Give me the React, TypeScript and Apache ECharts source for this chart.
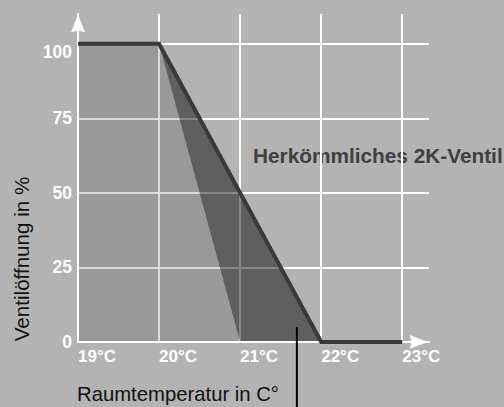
import React, { useEffect, useRef } from "react";
import * as echarts from "echarts";

// ---- data ----
const xTickValues = [19, 20, 21, 22, 23];
const yTickValues = [0, 25, 50, 75, 100];
const xGridValues = [20, 21, 22, 23];
const yGridValues = [25, 50, 75, 100];
const valveCurve = [
  [19, 100],
  [20, 100],
  [22, 0],
  [23, 0],
];
const lightArea = [
  [19, 0],
  [19, 100],
  [20, 100],
  [21, 0],
];
const darkArea = [
  [20, 100],
  [21, 0],
  [22, 0],
];
const pointerAt = [21.7, 5];
const seriesLabel = "Herkömmliches 2K-Ventil";
const xTitle = "Raumtemperatur in C°";
const yTitle = "Ventilöffnung in %";
const xRange = [19, 23.33];
const yRange = [0, 110];

const FONT = "'Liberation Sans', Arial, Helvetica, sans-serif";

export default function App() {
  const ref = useRef<HTMLDivElement>(null);

  useEffect(() => {
    if (!ref.current) return;
    const chart = echarts.init(ref.current, undefined, { renderer: "svg" });

    const polygonSeries = (pts: number[][], fill: string, z: number) => ({
      type: "custom",
      coordinateSystem: "cartesian2d",
      z,
      silent: true,
      data: [pts[0]],
      renderItem: (_params: any, api: any) => ({
        type: "polygon",
        shape: { points: pts.map((p) => api.coord(p)) },
        style: { fill },
      }),
    });

    const axisLine = {
      show: true,
      lineStyle: { color: "#ffffff", width: 2 },
    };

    const option: any = {
      animation: false,
      backgroundColor: "#b3b3b3",
      grid: { left: 78, right: 75, top: 14, bottom: 65, containLabel: false },
      xAxis: {
        type: "value",
        min: xRange[0],
        max: xRange[1],
        interval: 1,
        z: 3,
        axisLine,
        axisTick: { show: false },
        splitLine: { show: false },
        axisLabel: {
          showMaxLabel: false,
          color: "#ffffff",
          fontWeight: "bold",
          fontSize: 17,
          fontFamily: FONT,
          align: "left",
          margin: 6,
          formatter: (v: number) =>
            xTickValues.includes(v) ? `${v}°C` : "",
        },
      },
      yAxis: {
        type: "value",
        min: yRange[0],
        max: yRange[1],
        interval: 25,
        z: 3,
        axisLine,
        axisTick: { show: false },
        splitLine: { show: false },
        axisLabel: {
          showMaxLabel: false,
          color: "#ffffff",
          fontWeight: "bold",
          fontSize: 17.5,
          fontFamily: FONT,
          margin: 6,
          formatter: (v: number) =>
            yTickValues.includes(v)
              ? v === 100
                ? `{low|${v}}`
                : String(v)
              : "",
          rich: {
            low: {
              padding: [16, 0, 0, 0],
              color: "#ffffff",
              fontWeight: "bold",
              fontSize: 17.5,
              fontFamily: FONT,
            },
          },
        },
      },
      graphic: [
        {
          id: "seriesLabel",
          type: "text",
          left: 253,
          top: 145,
          style: {
            text: seriesLabel,
            fill: "#404040",
            fontSize: 20.8,
            fontWeight: "bold",
            fontFamily: FONT,
          },
        },
        {
          id: "xTitle",
          type: "text",
          left: 77,
          top: 384,
          style: {
            text: xTitle,
            fill: "#111111",
            fontSize: 20.3,
            fontFamily: FONT,
          },
        },
        {
          id: "yTitle",
          type: "text",
          x: 21,
          y: 259,
          rotation: Math.PI / 2,
          style: {
            text: yTitle,
            fill: "#111111",
            fontSize: 20.6,
            fontFamily: FONT,
            align: "center",
            verticalAlign: "middle",
            textAlign: "center",
            textVerticalAlign: "middle",
          },
        },
      ],
      series: [
        {
          type: "line",
          data: [],
          z: 1,
          silent: true,
          markLine: {
            z: 1,
            silent: true,
            symbol: ["none", "none"],
            label: { show: false },
            lineStyle: { color: "#ffffff", width: 2, type: "solid" },
            data: [
              ...yGridValues.map((v) => ({ yAxis: v })),
              ...xGridValues.map((v) => ({ xAxis: v })),
            ],
          },
        },
        polygonSeries(lightArea, "rgba(0,0,0,0.145)", 2),
        polygonSeries(darkArea, "rgba(0,0,0,0.47)", 2),
        {
          type: "line",
          data: valveCurve,
          z: 4,
          symbol: "none",
          silent: true,
          lineStyle: { color: "#3a3a3a", width: 4, cap: "butt", join: "miter" },
        },
      ],
    };

    chart.setOption(option);

    const extra: any[] = [];
    const p = chart.convertToPixel({ gridIndex: 0 }, pointerAt) as number[];
    const yTop = chart.convertToPixel({ gridIndex: 0 }, [xRange[0], yRange[1]]) as number[];
    const xEnd = chart.convertToPixel({ gridIndex: 0 }, [xRange[1], yRange[0]]) as number[];
    if (p && isFinite(p[0])) {
      extra.push({
        id: "pointer",
        type: "line",
        z: 10,
        shape: { x1: p[0], y1: p[1], x2: p[0], y2: 407 },
        style: { stroke: "#000000", lineWidth: 2 },
      });
    }
    if (yTop && isFinite(yTop[0])) {
      const [tx, ty] = [yTop[0], yTop[1] + 1];
      extra.push({
        id: "yArrow",
        type: "polygon",
        z: 10,
        shape: {
          points: [
            [tx, ty],
            [tx + 6.5, ty + 17],
            [tx, ty + 15],
            [tx - 6.5, ty + 17],
          ],
        },
        style: { fill: "#ffffff", stroke: "#ffffff", lineWidth: 0.5 },
      });
    }
    if (xEnd && isFinite(xEnd[0])) {
      const [tx, ty] = [xEnd[0] - 2, xEnd[1]];
      extra.push({
        id: "xArrow",
        type: "polygon",
        z: 10,
        shape: {
          points: [
            [tx, ty],
            [tx - 17, ty - 6.5],
            [tx - 15, ty],
            [tx - 17, ty + 6.5],
          ],
        },
        style: { fill: "#ffffff", stroke: "#ffffff", lineWidth: 0.5 },
      });
    }
    chart.setOption({ graphic: extra });

    return () => chart.dispose();
  }, []);

  return (
    <div
      ref={ref}
      style={{ position: "fixed", left: 0, top: 0, width: 504, height: 407 }}
    />
  );
}
